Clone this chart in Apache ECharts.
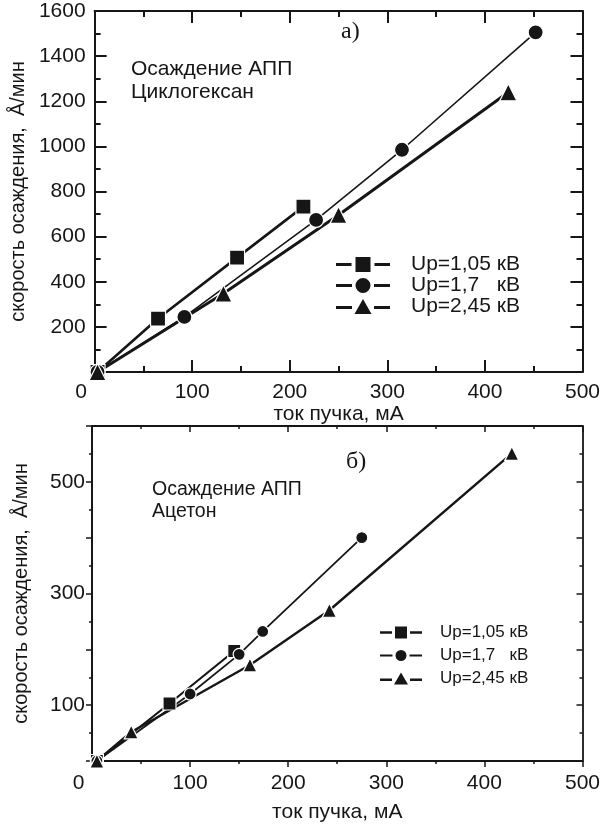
<!DOCTYPE html>
<html>
<head>
<meta charset="utf-8">
<script src="https://cdn.jsdelivr.net/npm/echarts@6/dist/echarts.min.js"></script>
<style>
  html, body { margin: 0; padding: 0; background: #fff; }
  #chart { width: 603px; height: 824px; }
</style>
</head>
<body>
<div id="chart"></div>
<script>
// Deposition rate vs beam current, two solvents
const seriesNames = ['Up=1,05 кВ', 'Up=1,7   кВ', 'Up=2,45 кВ'];

// (а) Cyclohexane
const cycloSquareX = [3, 65, 146, 214];
const cycloSquareY = [0, 237, 507, 733];
const cycloCircleX = [3, 92, 227, 315, 452];
const cycloCircleY = [0, 244, 674, 985, 1505];
const cycloTriangleX = [3, 132, 250, 424];
const cycloTriangleY = [0, 348, 696, 1240];

// (б) Acetone
const acetSquareX = [5, 79, 145];
const acetSquareY = [0, 103, 197];
const acetCircleX = [5, 100, 150, 174, 275];
const acetCircleY = [0, 120, 191, 232, 400];
const acetTriangleX = [5, 40, 161, 242, 428];
const acetTriangleY = [0, 52, 172, 270, 551];

const FONT = "'Liberation Sans', Arial, sans-serif";
const SERIF = "'Liberation Serif', 'Times New Roman', serif";
const INK = '#161616';

// legend keys: line segment, gap, marker, gap, line segment
const bigKeys = [
  'path://M0,6H15.5V9H0Z M19.5,0H34.5V15H19.5Z M38.5,6H54V9H38.5Z',
  'path://M0,6H16V9H0Z M19.5,7.5A7.5,7.5,0,1,0,34.5,7.5A7.5,7.5,0,1,0,19.5,7.5Z M38,6H54V9H38Z',
  'path://M0,7H16V10H0Z M27,0L35.5,15H18.5Z M38,7H54V10H38Z'
];
const smallKeys = [
  'path://M0,4.75H12V7.25H0Z M15,0H27V12H15Z M30,4.75H42V7.25H30Z',
  'path://M0,5H12.5V7H0Z M15.5,6A5.5,5.5,0,1,0,26.5,6A5.5,5.5,0,1,0,15.5,6Z M29.5,5H42V7H29.5Z',
  'path://M0,6H12V8.5H0Z M21,0L28,12H14Z M30,6H42V8.5H30Z'
];

const pairs = (xs, ys) => xs.map((x, i) => [x, ys[i]]);

function lineSeries(name, xi, yi, xs, ys, symbol, size, width) {
  return {
    type: 'line', name, xAxisIndex: xi, yAxisIndex: yi,
    data: pairs(xs, ys),
    symbol, symbolSize: size,
    lineStyle: { color: INK, width },
    itemStyle: { color: INK, borderColor: '#fff', borderWidth: 1.2 },
    emphasis: { disabled: true },
    z: 3
  };
}

function xAxisBase(grid, pos, opts) {
  return Object.assign({
    gridIndex: grid, type: 'value', position: pos,
    min: 0, max: 500, interval: 100,
    splitLine: { show: false },
    axisLine: { show: true, onZero: false, lineStyle: { color: INK, width: 2 } },
    axisTick: { show: true, inside: true, length: 12, lineStyle: { color: INK, width: 2 } },
    minorTick: { show: true, splitNumber: 2, length: 6, lineStyle: { color: INK, width: 2 } },
    axisLabel: { show: false }
  }, opts);
}

function xLabel(margin, size) {
  return {
    show: true, margin, color: INK, fontFamily: FONT, fontSize: size,
    formatter: v => v === 0 ? '{z|0}' : String(v),
    rich: { z: { fontFamily: FONT, fontSize: size, color: INK, padding: [0, 27, 0, 0] } }
  };
}

const chart = echarts.init(document.getElementById('chart'), null, { renderer: 'canvas' });

chart.setOption({
  animation: false,
  backgroundColor: '#fff',
  grid: [
    { left: 83, right: 20, top: 11, height: 361 },
    { left: 92, right: 16, top: 426, height: 335 }
  ],
  xAxis: [
    xAxisBase(0, 'bottom', {
      axisLabel: xLabel(10, 21),
      name: 'ток пучка, мА', nameLocation: 'middle', nameGap: 30,
      nameTextStyle: { color: INK, fontFamily: FONT, fontSize: 21 }
    }),
    xAxisBase(0, 'top', {}),
    xAxisBase(1, 'bottom', {
      axisTick: { show: true, inside: false, length: 6, lineStyle: { color: INK, width: 1.5 } },
      minorTick: { show: true, splitNumber: 2, length: 3, lineStyle: { color: INK, width: 1.5 } },
      axisLine: { show: true, onZero: false, lineStyle: { color: INK, width: 1.8 } },
      axisLabel: xLabel(12, 21),
      name: 'ток пучка, мА', nameLocation: 'middle', nameGap: 41,
      nameTextStyle: { color: INK, fontFamily: FONT, fontSize: 21 }
    }),
    xAxisBase(1, 'top', {
      axisTick: { show: true, inside: true, length: 6, lineStyle: { color: INK, width: 1.5 } },
      minorTick: { show: true, splitNumber: 2, length: 3, lineStyle: { color: INK, width: 1.5 } },
      axisLine: { show: true, onZero: false, lineStyle: { color: INK, width: 1.8 } }
    })
  ],
  yAxis: [
    {
      gridIndex: 0, type: 'value', position: 'left', min: 0, max: 1600, interval: 200,
      splitLine: { show: false },
      axisLine: { show: true, onZero: false, lineStyle: { color: INK, width: 2 } },
      axisTick: { show: true, inside: true, length: 12, lineStyle: { color: INK, width: 2 } },
      minorTick: { show: true, splitNumber: 2, length: 6, lineStyle: { color: INK, width: 2 } },
      axisLabel: { margin: 9, color: INK, fontFamily: FONT, fontSize: 21,
        formatter: v => v === 0 ? '' : String(v) },
      name: 'скорость осаждения,  Å/мин', nameLocation: 'middle', nameGap: 50,
      nameTextStyle: { color: INK, fontFamily: FONT, fontSize: 20 }
    },
    {
      gridIndex: 0, type: 'value', position: 'right', min: 0, max: 1600, interval: 200,
      splitLine: { show: false },
      axisLine: { show: true, onZero: false, lineStyle: { color: INK, width: 2 } },
      axisTick: { show: true, inside: true, length: 12, lineStyle: { color: INK, width: 2 } },
      minorTick: { show: true, splitNumber: 2, length: 6, lineStyle: { color: INK, width: 2 } },
      axisLabel: { show: false }
    },
    {
      gridIndex: 1, type: 'value', position: 'left', min: 0, max: 600, interval: 100,
      splitLine: { show: false },
      axisLine: { show: true, onZero: false, lineStyle: { color: INK, width: 2 } },
      axisTick: { show: true, inside: false, length: 6, lineStyle: { color: INK, width: 1.5 } },
      minorTick: { show: true, splitNumber: 2, length: 3, lineStyle: { color: INK, width: 1.5 } },
      axisLabel: { margin: 7, color: INK, fontFamily: FONT, fontSize: 21,
        formatter: v => (v === 100 || v === 300 || v === 500) ? String(v) : '' },
      name: 'скорость осаждения,  Å/мин', nameLocation: 'middle', nameGap: 61,
      nameTextStyle: { color: INK, fontFamily: FONT, fontSize: 20 }
    },
    {
      gridIndex: 1, type: 'value', position: 'right', min: 0, max: 600, interval: 100,
      splitLine: { show: false },
      axisLine: { show: true, onZero: false, lineStyle: { color: INK, width: 1.8 } },
      axisTick: { show: true, inside: true, length: 6, lineStyle: { color: INK, width: 1.5 } },
      minorTick: { show: true, splitNumber: 2, length: 3, lineStyle: { color: INK, width: 1.5 } },
      axisLabel: { show: false }
    }
  ],
  legend: [
    {
      data: seriesNames.map((n, i) => ({ name: n, icon: bigKeys[i] })),
      orient: 'vertical', left: 331, top: 249,
      itemWidth: 54, itemHeight: 15, itemGap: 0,
      itemStyle: { color: INK, borderWidth: 0 },
      textStyle: { color: INK, fontFamily: FONT, fontSize: 21, lineHeight: 21, padding: [0, 0, 0, 16] },
      selectedMode: false
    },
    {
      data: seriesNames.map((n, i) => ({ name: n, icon: smallKeys[i] })),
      orient: 'vertical', left: 375, top: 616,
      itemWidth: 42, itemHeight: 12, itemGap: 0,
      itemStyle: { color: INK, borderWidth: 0 },
      textStyle: { color: INK, fontFamily: FONT, fontSize: 17, lineHeight: 23, padding: [0, 0, 0, 13] },
      selectedMode: false
    }
  ],
  graphic: [
    { type: 'text', left: 341, top: 20, style: { text: 'а)', font: '24px ' + SERIF, fill: INK } },
    { type: 'text', left: 131, top: 58, style: { text: 'Осаждение АПП\nЦиклогексан', font: '21px ' + FONT, fill: INK, lineHeight: 23 } },
    { type: 'text', left: 346, top: 450, style: { text: 'б)', font: '24px ' + SERIF, fill: INK } },
    { type: 'text', left: 152, top: 479, style: { text: 'Осаждение АПП\nАцетон', font: '19.5px ' + FONT, fill: INK, lineHeight: 22 } }
  ],
  series: [
    lineSeries(seriesNames[0], 0, 0, cycloSquareX, cycloSquareY, 'rect', 15, 2.6),
    lineSeries(seriesNames[1], 0, 0, cycloCircleX, cycloCircleY, 'circle', 15, 1.6),
    lineSeries(seriesNames[2], 0, 0, cycloTriangleX, cycloTriangleY, 'triangle', 17, 3),
    lineSeries(seriesNames[0], 2, 2, acetSquareX, acetSquareY, 'rect', 13, 2.2),
    lineSeries(seriesNames[1], 2, 2, acetCircleX, acetCircleY, 'circle', 12, 1.8),
    lineSeries(seriesNames[2], 2, 2, acetTriangleX, acetTriangleY, 'triangle', 14, 2.4)
  ]
});
</script>
</body>
</html>
